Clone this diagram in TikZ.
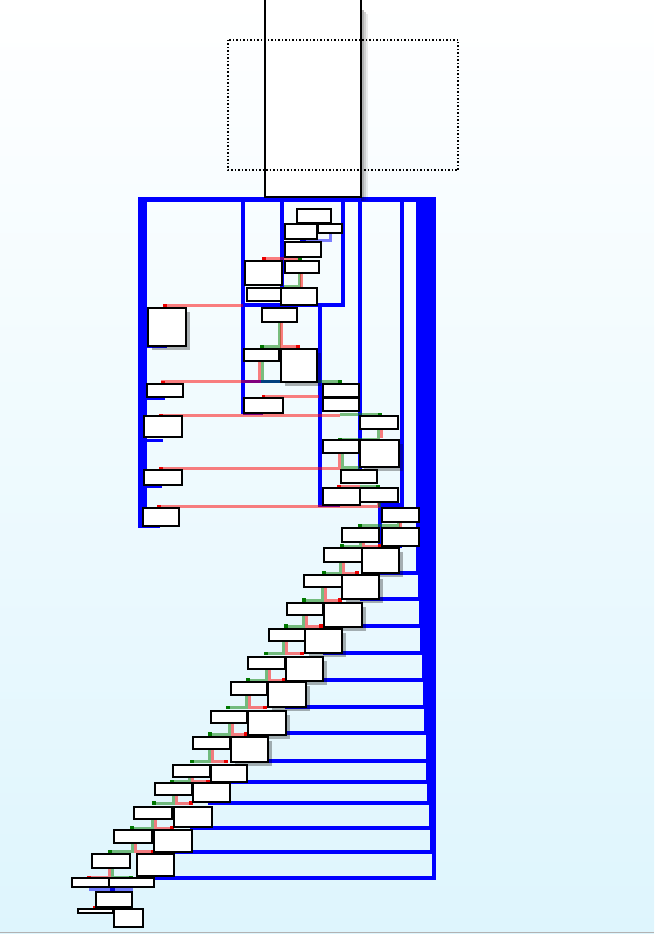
\documentclass[tikz,border=0pt]{standalone}
\usetikzlibrary{fit,shadows}
\definecolor{bgb}{RGB}{222,245,253}
\definecolor{dgreen}{RGB}{0,120,0}
\definecolor{dred}{RGB}{235,0,0}
\definecolor{dblue}{RGB}{0,0,220}
\definecolor{edgegreen}{RGB}{0,128,0}
\newcommand\bxn[6]{\node[#1, fit={(#3,#4)(#5,#6)}] (#2) {};}
% vertical x, top y, horizontal y, green left end, red right end
\newcommand\stair[5]{%
  \draw[gn] (#1-1.5,#2) -- (#1-1.5,#3) -- (#4,#3);
  \draw[rd] (#1+1.5,#2) -- (#1+1.5,#3) -- (#5,#3);
  \fill[dgreen] (#4,#3-1.8) rectangle (#4+4,#3+1.8);
  \fill[dred] (#5-4,#3-1.8) rectangle (#5,#3+1.8);}
\begin{document}
\begin{tikzpicture}[x=1pt,y=-1pt,
  bx/.style={draw=black, line width=1.8pt, fill=white, inner sep=0pt, outer sep=0pt},
  bxs/.style={bx, drop shadow={shadow xshift=4pt, shadow yshift=-4pt, fill=black, opacity=0.3}},
  bl/.style={draw=blue, line width=4.5pt},
  blt/.style={draw=blue, line width=3pt},
  rd/.style={draw=red, draw opacity=0.5, line width=3pt},
  gn/.style={draw=edgegreen, draw opacity=0.5, line width=3pt},
  lb/.style={draw=blue, draw opacity=0.5, line width=3pt}]
\useasboundingbox (0,0) rectangle (654,934);
\fill[top color=white, bottom color=bgb] (0,0) rectangle (654,932);
\fill[bgb] (0,932) rectangle (654,934);
\draw[gray!60, line width=1.5pt] (0,932.5) -- (654,932.5);

% ---------- blue containers ----------
\draw[bl, line width=5pt] (138,199) -- (435,199);
\draw[blue, line width=9pt] (142.5,197) -- (142.5,527);
\draw[blt] (138,526) -- (160,526);
\draw[blt] (142,346) -- (167,346);
\draw[blt] (142,398) -- (165,398);
\draw[blt] (142,440) -- (163,440);
\draw[blt] (142,486) -- (162,486);
\draw[bl] (243,197) -- (243,414);
\draw[blt] (243,284) -- (263,284);
\draw[blt] (243,381) -- (298,381);
\draw[blt] (243,413) -- (263,413);
\draw[bl] (282,197) -- (282,288);
\draw[bl] (343,197) -- (343,307);
\draw[bl] (241,305) -- (345,305);
\draw[bl] (320,305) -- (320,507);
\draw[bl] (318,505) -- (340,505);
\draw[bl] (360,197) -- (360,470);
\draw[bl] (402,197) -- (402,507);
\draw[bl] (378,505) -- (404,505);
\draw[bl] (380,505) -- (380,547);
\draw[bl] (378,546) -- (402,546);
\foreach \yy/\xs/\xe in {573/380/418, 599/360/420, 626/342/421, 653/323/422,
  680/303/424, 707/285/425, 733/266/426, 761/248/428, 782/228/428,
  803/208/429, 828/190/431, 852/173/432, 878/155/434}
  {\draw[bl] (\xe,197) -- (\xe,\yy) -- (\xs,\yy);}

% ---------- coloured edges (upper part) ----------
\draw[lb] (302,240.5) -- (330,240.5) -- (330,233);
\fill[dblue] (300,239) rectangle (306,242);
\draw[rd] (263,261) -- (263,258.5) -- (300,258.5);
\fill[dred] (262,257) rectangle (266,260);
\fill[dgreen] (298,257) rectangle (302,260);
\draw[gn] (299,273) -- (299,286) -- (284,286);
\draw[rd] (301.5,273) -- (301.5,288);
\draw[rd] (164,308) -- (164,305) -- (243,305);
\fill[dred] (162.5,303.5) rectangle (166.5,307);
\draw[gn] (279,322) -- (279,346) -- (261,346);
\draw[rd] (281,322) -- (281,346) -- (299,346);
\fill[dgreen] (260,344.5) rectangle (264,348);
\fill[dred] (296,344.5) rectangle (300,348);
\draw[gn] (262,361) -- (262,381) -- (340,381);
\draw[rd] (259,361) -- (259,381) -- (162,381) -- (162,384);
\fill[dgreen] (338,379.5) rectangle (342,383);
\fill[dred] (160.5,381) rectangle (164.5,384);
\draw[rd] (263,398) -- (263,396.5) -- (319,396.5);
\fill[dred] (261.5,395) rectangle (265,398);
\draw[rd] (160,416) -- (160,415) -- (340,415);
\fill[dred] (158.5,413.5) rectangle (162.5,417);
\draw[gn] (340,414) -- (380,414) -- (380,416);
\fill[dgreen] (378,412.5) rectangle (382,416);
\draw[gn] (378.5,429) -- (378.5,439.5) -- (338,439.5);
\draw[rd] (381,429) -- (381,438);
\fill[dgreen] (338,438) rectangle (342,441);
\draw[rd] (339.5,453) -- (339.5,468) -- (160,468) -- (160,470);
\fill[dred] (158.5,466.5) rectangle (162.5,470);
\draw[gn] (342,453) -- (342,467) -- (360,467);
\draw[rd] (338,486.5) -- (360,486.5);
\draw[gn] (360,486.5) -- (378,486.5);
\fill[dred] (337,485) rectangle (341,488);
\fill[dgreen] (376,485) rectangle (380,488);
\draw[rd] (158,508) -- (158,506.5) -- (378,506.5) -- (378,502);
\draw[gn] (379.5,502) -- (379.5,506.5);
\fill[dred] (156.5,505) rectangle (160.5,508.5);

% ---------- staircase edges ----------
\draw[gn] (398.5,522) -- (398.5,525.5) -- (358,525.5);
\draw[rd] (400.5,522) -- (400.5,528);
\fill[dgreen] (358,524) rectangle (362,527.5);
\stair{361.5}{542}{546}{340}{382}
\stair{342}{562}{573}{322}{359}
\stair{324}{587}{600}{302}{342}
\stair{305}{615}{626}{284}{323}
\stair{285}{641}{653.5}{264}{304}
\stair{267.5}{669}{680}{246}{286}
\stair{248}{695}{707.5}{226}{267}
\stair{230.5}{723}{734}{208}{248}
\stair{210.5}{749}{761.5}{190}{228}
\stair{191}{777}{781.5}{170}{210}
\stair{174.5}{795}{803}{152}{193}
\stair{153.5}{819}{828}{130}{174}
\stair{133.5}{843}{851.5}{108}{155}
\draw[rd] (109,868) -- (109,877) -- (88,877);
\draw[gn] (112,868) -- (112,877) -- (132,877);
\fill[dred] (87,875.5) rectangle (91,879);
\fill[dgreen] (129,875.5) rectangle (133,879);
\draw[lb] (89,889) -- (133,889);
\fill[dblue] (110,887.5) rectangle (115,891);
\draw[rd] (93,907) -- (97,907);
\fill[dred] (93,905.5) rectangle (97,908.5);

% ---------- boxes ----------
\fill[black, opacity=0.30] (361,10) rectangle (364,201);
\fill[black, opacity=0.18] (364,12) rectangle (366,201);
\fill[black, opacity=0.08] (366,14) rectangle (368,201);
\bxn{bx}{top}{265}{-10}{361}{197}
\bxn{bx}{a}{297}{209}{331}{223}
\bxn{bx}{b}{285}{224}{317}{239}
\bxn{bx}{c}{318}{224}{342}{233}
\bxn{bx}{d}{285}{242}{321}{257}
\bxn{bx}{e}{245}{261}{282}{285}
\bxn{bx}{f}{285}{261}{319}{273}
\bxn{bx}{g}{247}{288}{282}{301}
\bxn{bx}{h}{281}{288}{317}{305}
\bxn{bxs}{i}{148}{308}{186}{346}
\bxn{bx}{j}{262}{308}{297}{322}
\bxn{bx}{k}{244}{349}{279}{361}
\bxn{bxs}{l}{281}{349}{317}{382}
\bxn{bx}{m}{147}{384}{183}{397}
\bxn{bx}{n}{323}{384}{359}{397}
\bxn{bx}{o}{244}{398}{283}{413}
\bxn{bx}{p}{323}{398}{359}{411}
\bxn{bx}{q}{360}{416}{398}{429}
\bxn{bx}{r}{144}{416}{182}{437}
\bxn{bx}{s}{323}{440}{359}{453}
\bxn{bxs}{t}{360}{440}{399}{467}
\bxn{bx}{u}{144}{470}{182}{485}
\bxn{bx}{v}{341}{470}{377}{483}
\bxn{bx}{w}{323}{488}{360}{505}
\bxn{bx}{xb}{360}{488}{398}{502}
\bxn{bx}{yb}{143}{508}{179}{526}
\bxn{bx}{zb}{382}{508}{419}{522}
\bxn{bx}{aa}{342}{528}{379}{542}
\bxn{bx}{ab}{382}{528}{419}{546}
\bxn{bx}{ac}{324}{548}{362}{562}
\bxn{bxs}{ad}{362}{548}{399}{573}
\bxn{bx}{ae}{304}{575}{342}{587}
\bxn{bxs}{af}{342}{575}{379}{599}
\bxn{bx}{ag}{287}{603}{323}{615}
\bxn{bxs}{ah}{324}{603}{362}{627}
\bxn{bx}{ai}{269}{629}{305}{641}
\bxn{bxs}{aj}{305}{629}{342}{653}
\bxn{bx}{ak}{248}{657}{285}{669}
\bxn{bxs}{al}{286}{657}{323}{681}
\bxn{bx}{am}{231}{682}{267}{695}
\bxn{bxs}{an}{268}{682}{306}{707}
\bxn{bx}{ao}{211}{711}{247}{723}
\bxn{bxs}{ap}{248}{711}{286}{735}
\bxn{bx}{aq}{193}{737}{230}{749}
\bxn{bxs}{ar}{231}{737}{268}{762}
\bxn{bx}{as}{173}{765}{210}{777}
\bxn{bx}{at}{211}{765}{247}{782}
\bxn{bx}{au}{155}{783}{192}{795}
\bxn{bx}{av}{193}{783}{230}{802}
\bxn{bx}{aw}{134}{807}{172}{819}
\bxn{bx}{ax}{174}{807}{212}{827}
\bxn{bx}{ay}{114}{830}{152}{843}
\bxn{bx}{az}{154}{830}{192}{852}
\bxn{bx}{ba}{92}{854}{130}{868}
\bxn{bx}{bb}{137}{854}{174}{876}
\bxn{bx}{bc}{72}{878}{110}{887}
\bxn{bx}{bd}{109}{878}{154}{887}
\bxn{bx}{be}{96}{892}{132}{907}
\bxn{bx}{bf}{78}{909}{113}{913}
\bxn{bx}{bg}{114}{909}{143}{927}

% ---------- dotted frame ----------
\draw[line width=1.5pt, dotted] (228,40) rectangle (458,170);
\end{tikzpicture}
\end{document}
